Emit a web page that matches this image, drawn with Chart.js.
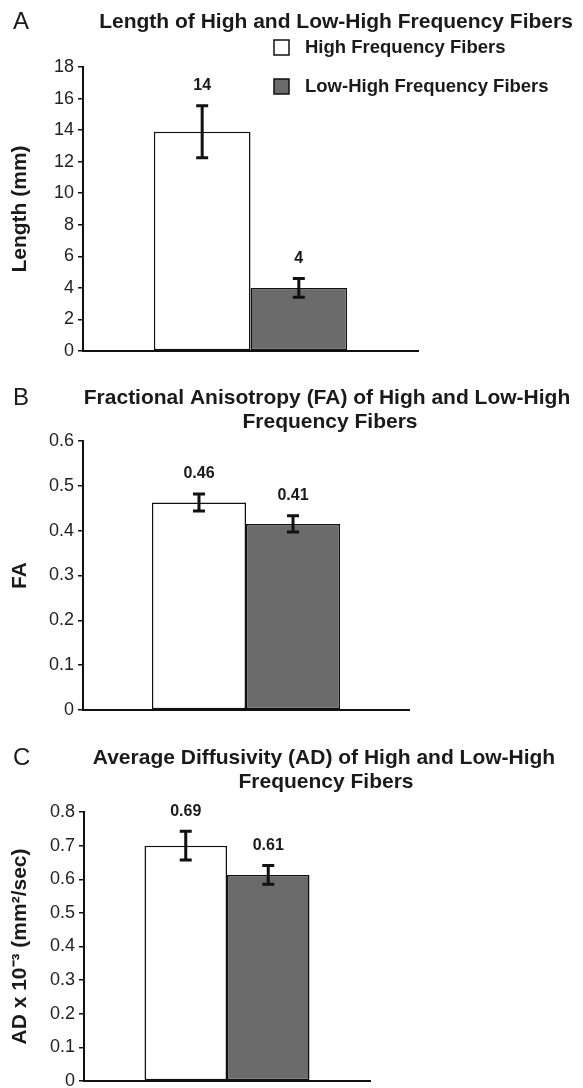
<!DOCTYPE html>
<html>
<head>
<meta charset="utf-8">
<script src="https://cdn.jsdelivr.net/npm/chart.js@4"></script>
<style>
  body { margin: 0; background: #fff; }
  .panel { position: absolute; left: 0; width: 583px; }
</style>
</head>
<body>
<div class="panel" style="top:0;height:365px"><canvas id="chart-a"></canvas></div>
<div class="panel" style="top:365px;height:360px"><canvas id="chart-b"></canvas></div>
<div class="panel" style="top:725px;height:363px"><canvas id="chart-c"></canvas></div>
<script>
// Fiber data: two groups, means with error bars, per panel

const categories = ['High Frequency Fibers', 'Low-High Frequency Fibers'];
const barColors = ['#ffffff', '#6b6b6b'];

const lengthMeans = [13.9, 4.0];
const lengthErrors = [1.65, 0.6];
const lengthLabels = ['14', '4'];
const lengthTicks = { max: 18, step: 2 };

const faMeans = [0.463, 0.415];
const faErrors = [0.019, 0.018];
const faLabels = ['0.46', '0.41'];
const faTicks = { max: 0.6, step: 0.1 };

const adMeans = [0.70, 0.613];
const adErrors = [0.043, 0.028];
const adLabels = ['0.69', '0.61'];
const adTicks = { max: 0.8, step: 0.1 };

const FONT = '"Liberation Sans", Arial, sans-serif';

// error bars + value labels, drawn from the bar elements and y scale
const errorBarPlugin = {
  id: 'errorBars',
  afterDatasetsDraw(chart) {
    const ctx = chart.ctx;
    const y = chart.scales.y;
    const cfg = chart.options.plugins.errorBars;
    chart.data.datasets.forEach((ds, i) => {
      const bar = chart.getDatasetMeta(i).data[0];
      const mean = ds.data[0];
      const err = cfg.errors[i];
      const top = y.getPixelForValue(mean + err);
      const bot = y.getPixelForValue(mean - err);
      ctx.save();
      ctx.strokeStyle = '#111';
      ctx.lineWidth = 3;
      ctx.beginPath();
      ctx.moveTo(bar.x, top); ctx.lineTo(bar.x, bot);
      ctx.moveTo(bar.x - 6, top); ctx.lineTo(bar.x + 6, top);
      ctx.moveTo(bar.x - 6, bot); ctx.lineTo(bar.x + 6, bot);
      ctx.stroke();
      ctx.fillStyle = '#1a1a1a';
      ctx.font = 'bold 16px ' + FONT;
      ctx.textAlign = 'center';
      ctx.textBaseline = 'middle';
      ctx.fillText(cfg.labels[i], bar.x, top - 20);
      ctx.restore();
    });
  }
};

// panel letter, title lines and (for panel A) the legend
const headerPlugin = {
  id: 'header',
  afterDraw(chart) {
    const ctx = chart.ctx;
    const cfg = chart.options.plugins.header;
    ctx.save();
    ctx.fillStyle = '#1a1a1a';
    ctx.textBaseline = 'middle';
    ctx.font = '24px ' + FONT;
    ctx.textAlign = 'left';
    ctx.fillText(cfg.letter, 13, cfg.lines[0].y);
    ctx.font = 'bold 21px ' + FONT;
    ctx.textAlign = 'center';
    cfg.lines.forEach((l) => ctx.fillText(l.text, l.x, l.y));
    if (cfg.legend) {
      ctx.font = 'bold 18.5px ' + FONT;
      ctx.textAlign = 'left';
      const rowsY = [48, 87];
      chart.data.datasets.forEach((ds, i) => {
        ctx.fillStyle = ds.backgroundColor;
        ctx.strokeStyle = '#111';
        ctx.lineWidth = 1.5;
        ctx.fillRect(274, rowsY[i] - 8, 15, 15);
        ctx.strokeRect(274, rowsY[i] - 8, 15, 15);
        ctx.fillStyle = '#1a1a1a';
        ctx.fillText(ds.label, 305, rowsY[i]);
      });
    }
    ctx.restore();
  }
};

function makePanel(id, p) {
  return new Chart(document.getElementById(id), {
    type: 'bar',
    data: {
      labels: [''],
      datasets: categories.map((name, i) => ({
        label: name,
        data: [p.means[i]],
        backgroundColor: barColors[i],
        borderColor: '#111',
        borderWidth: 1.5,
        borderSkipped: false,
        categoryPercentage: 0.577,
        barPercentage: 1.0,
      })),
    },
    options: {
      responsive: true,
      maintainAspectRatio: false,
      animation: false,
      layout: { padding: p.padding },
      plugins: {
        legend: { display: false },
        tooltip: { enabled: false },
        errorBars: { errors: p.errors, labels: p.labels },
        header: { letter: p.letter, lines: p.titleLines, legend: p.legend },
      },
      scales: {
        x: {
          ticks: { display: false },
          grid: { display: false },
          border: { display: true, color: '#111', width: 2 },
          afterFit: (s) => { s.height = 0; },
        },
        y: {
          min: 0,
          max: p.ticks.max,
          ticks: {
            stepSize: p.ticks.step,
            color: '#222',
            font: { family: FONT, size: 18 },
            padding: 4,
            callback: (v) => String(Math.round(v * 10) / 10),
          },
          grid: { drawOnChartArea: false, drawTicks: true, tickLength: 5, color: '#111', lineWidth: 1.5 },
          border: { display: true, color: '#111', width: 2 },
          title: {
            display: true,
            text: p.yTitle,
            color: '#1a1a1a',
            font: { family: FONT, size: 21, weight: 'bold' },
            padding: { top: 8, bottom: 0 },
          },
          afterFit: (s) => { s.width = p.axisLeft; s.paddingTop = 0; s.paddingBottom = 0; },
        },
      },
    },
    plugins: [errorBarPlugin, headerPlugin],
  });
}

makePanel('chart-a', {
  means: lengthMeans, errors: lengthErrors, labels: lengthLabels, ticks: lengthTicks,
  yTitle: 'Length (mm)', letter: 'A', legend: true, axisLeft: 83,
  padding: { top: 67, bottom: 14, left: 0, right: 165 },
  titleLines: [{ text: 'Length of High and Low-High Frequency Fibers', x: 336, y: 22 }],
});

makePanel('chart-b', {
  means: faMeans, errors: faErrors, labels: faLabels, ticks: faTicks,
  yTitle: 'FA', letter: 'B', legend: false, axisLeft: 83,
  padding: { top: 76, bottom: 15, left: 0, right: 174 },
  titleLines: [
    { text: 'Fractional Anisotropy (FA) of High and Low-High', x: 327, y: 33 },
    { text: 'Frequency Fibers', x: 330, y: 57 },
  ],
});

makePanel('chart-c', {
  means: adMeans, errors: adErrors, labels: adLabels, ticks: adTicks,
  yTitle: 'AD x 10\u207B\u00B3 (mm\u00B2/sec)', letter: 'C', legend: false, axisLeft: 84,
  padding: { top: 87, bottom: 7, left: 0, right: 213 },
  titleLines: [
    { text: 'Average Diffusivity (AD) of High and Low-High', x: 324, y: 33 },
    { text: 'Frequency Fibers', x: 326, y: 57 },
  ],
});
</script>
</body>
</html>
